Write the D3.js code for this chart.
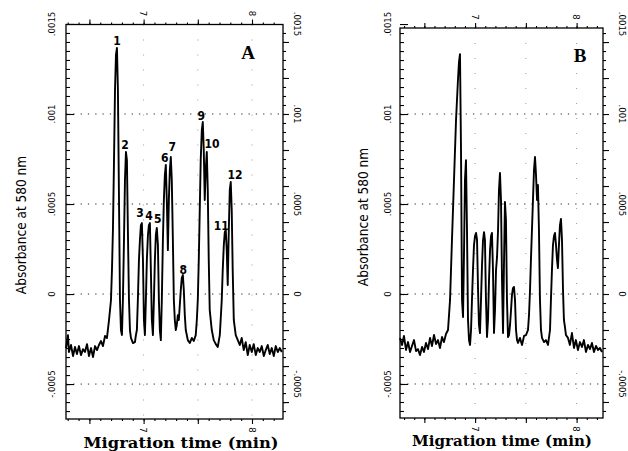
<!DOCTYPE html>
<html>
<head>
<meta charset="utf-8">
<script src="https://cdn.jsdelivr.net/npm/d3@7"></script>
<style>
  body { margin: 0; background: #fff; }
  svg { display: block; }
</style>
</head>
<body>
<svg id="chart" width="628" height="451"></svg>
<script>
// migration time (min) and absorbance (units of 1e-4 AU)
const timeA = [6.284, 6.302, 6.311, 6.330, 6.349, 6.367, 6.385, 6.404, 6.422, 6.441, 6.459, 6.478, 6.496, 6.515, 6.533, 6.552, 6.570, 6.588, 6.607, 6.625,
  6.644, 6.662, 6.681, 6.699, 6.708, 6.717, 6.727, 6.736, 6.745, 6.754, 6.763, 6.773, 6.782, 6.791, 6.800, 6.809, 6.819, 6.828, 6.837, 6.846,
  6.855, 6.865, 6.874, 6.883, 6.902, 6.920, 6.929, 6.938, 6.947, 6.957, 6.966, 6.975, 6.984, 6.994, 7.003, 7.012, 7.021, 7.030, 7.040, 7.049,
  7.058, 7.067, 7.076, 7.086, 7.095, 7.104, 7.113, 7.122, 7.132, 7.141, 7.150, 7.159, 7.168, 7.178, 7.187, 7.196, 7.205, 7.214, 7.224, 7.233,
  7.242, 7.251, 7.260, 7.270, 7.279, 7.288, 7.297, 7.306, 7.316, 7.325, 7.334, 7.343, 7.352, 7.362, 7.371, 7.380, 7.389, 7.408, 7.426, 7.445,
  7.463, 7.481, 7.491, 7.500, 7.509, 7.518, 7.527, 7.537, 7.546, 7.555, 7.564, 7.573, 7.583, 7.592, 7.601, 7.610, 7.629, 7.647, 7.666, 7.684,
  7.703, 7.721, 7.730, 7.740, 7.749, 7.758, 7.767, 7.776, 7.786, 7.795, 7.804, 7.813, 7.822, 7.832, 7.850, 7.869, 7.887, 7.905, 7.924, 7.942,
  7.961, 7.979, 7.998, 8.016, 8.035, 8.053, 8.072, 8.090, 8.109, 8.127, 8.145, 8.164, 8.182, 8.201, 8.219, 8.238, 8.256, 8.275];
const absA = [-3.00, -2.28, -3.22, -2.83, -3.44, -2.94, -3.33, -2.89, -3.39, -3.06, -3.22, -2.78, -3.44, -3.00, -3.50, -2.89, -3.11, -2.83, -2.61, -2.89,
  -2.33, -2.44, -1.44, -0.33, 1.33, 3.56, 7.44, 11.33, 13.28, 13.67, 11.33, 5.22, -0.33, -2.00, -2.28, -0.33, 3.00, 6.33, 7.89, 7.44,
  3.56, -0.33, -2.00, -2.44, -2.72, -2.67, -2.28, -2.00, -0.33, 1.89, 3.00, 3.83, 3.94, 1.89, -1.44, -2.28, -0.33, 1.89, 3.28, 3.83,
  3.94, 1.33, -1.44, -2.28, -0.33, 1.89, 3.28, 3.67, 2.72, -0.33, -2.00, -2.56, -0.33, 3.00, 5.22, 6.61, 7.17, 5.22, 2.44, 5.22,
  6.89, 7.61, 6.33, 3.00, -0.33, -1.44, -2.00, -1.72, -1.17, -1.44, -0.61, 0.22, 0.89, 1.06, 0.22, -1.17, -2.00, -2.56, -2.72, -2.44,
  -2.61, -2.28, -1.44, -0.33, 1.89, 4.67, 7.44, 9.11, 9.56, 8.00, 5.22, 6.89, 7.89, 5.78, 1.89, -0.89, -2.00, -2.56, -2.78, -2.94,
  -2.28, -0.33, 1.33, 2.72, 3.44, 3.56, 2.44, 0.50, 3.56, 5.78, 6.22, 4.67, 1.33, -1.44, -2.28, -2.56, -2.83, -2.44, -3.11, -2.67,
  -3.39, -2.83, -3.22, -2.78, -3.39, -3.00, -3.22, -2.89, -3.44, -3.11, -2.83, -3.33, -3.00, -3.44, -2.89, -3.22, -3.00, -3.22];

const timeB = [6.260, 6.280, 6.299, 6.319, 6.339, 6.359, 6.378, 6.398, 6.418, 6.437, 6.457, 6.477, 6.496, 6.516, 6.536, 6.556, 6.575, 6.595, 6.615, 6.634,
  6.654, 6.674, 6.693, 6.713, 6.733, 6.753, 6.772, 6.792, 6.812, 6.831, 6.841, 6.851, 6.861, 6.871, 6.881, 6.891, 6.900, 6.910, 6.920, 6.930,
  6.940, 6.950, 6.960, 6.969, 6.979, 6.989, 6.999, 7.009, 7.019, 7.029, 7.038, 7.048, 7.058, 7.068, 7.078, 7.088, 7.097, 7.107, 7.117, 7.127,
  7.137, 7.147, 7.157, 7.166, 7.176, 7.186, 7.196, 7.206, 7.216, 7.226, 7.235, 7.245, 7.255, 7.265, 7.275, 7.285, 7.294, 7.304, 7.314, 7.324,
  7.334, 7.344, 7.354, 7.363, 7.373, 7.383, 7.393, 7.403, 7.413, 7.423, 7.442, 7.462, 7.482, 7.501, 7.521, 7.531, 7.541, 7.550, 7.560, 7.570,
  7.580, 7.590, 7.600, 7.610, 7.619, 7.629, 7.639, 7.649, 7.659, 7.679, 7.698, 7.718, 7.738, 7.747, 7.757, 7.767, 7.777, 7.787, 7.797, 7.807,
  7.816, 7.826, 7.836, 7.846, 7.856, 7.866, 7.875, 7.885, 7.895, 7.915, 7.934, 7.954, 7.974, 7.993, 8.013, 8.033, 8.053, 8.072, 8.092, 8.112,
  8.132, 8.151, 8.171, 8.191, 8.211, 8.230, 8.250];
const absB = [-2.44, -2.83, -2.33, -3.11, -2.67, -3.22, -2.89, -2.56, -3.17, -3.06, -3.39, -2.94, -3.22, -2.72, -3.06, -2.44, -2.89, -2.28, -2.78, -2.56,
  -3.00, -2.39, -2.67, -2.22, -2.00, -0.33, 3.00, 6.33, 9.67, 11.89, 12.89, 13.33, 8.00, -0.33, -1.28, 2.44, 6.33, 7.44, 3.56, -1.44,
  -2.56, -2.83, -2.00, -0.33, 1.33, 2.72, 3.22, 3.39, 3.00, 0.22, -1.72, -2.17, -0.33, 1.61, 3.00, 3.44, 3.00, -0.33, -2.39, -1.44,
  0.78, 2.44, 3.22, 3.39, 1.33, -2.17, -0.89, 1.33, 2.06, 3.56, 5.78, 6.72, 5.22, 0.78, -2.17, 1.89, 5.11, 4.11, -0.33, -2.39,
  -2.28, -1.72, -0.89, -0.06, 0.33, 0.39, -0.33, -2.00, -2.56, -2.72, -2.44, -2.83, -2.33, -2.28, -2.00, -1.17, 0.22, 1.89, 3.56, 5.22,
  6.89, 7.61, 6.61, 5.22, 6.06, 3.56, -0.33, -2.00, -2.44, -2.67, -2.56, -2.83, -2.00, -0.33, 1.33, 2.72, 3.22, 3.39, 2.72, 1.89,
  1.44, 2.72, 3.83, 4.17, 3.00, 0.22, -1.44, -1.83, -2.28, -2.44, -2.83, -2.17, -3.00, -2.56, -3.11, -2.67, -2.94, -2.56, -3.22, -2.83,
  -3.06, -2.72, -3.22, -2.89, -3.11, -3.00, -3.22];

// peak numbers in panel A (time, absorbance at label baseline)
const peakLabels = ['1', '2', '3', '4', '5', '6', '7', '8', '9', '10', '11', '12'];
const peakLabelTime = [6.754, 6.828, 6.966, 7.049, 7.130, 7.196, 7.265, 7.366, 7.532, 7.630, 7.717, 7.843];
const peakLabelAbs = [13.83, 8.06, 4.28, 4.11, 3.94, 7.33, 7.94, 1.11, 9.67, 8.11, 3.56, 6.39];

const yTickValues = [15, 10, 5, 0, -5];
const yTickLabels = ['.0015', '.001', '.0005', '0', '-.0005'];
const xTickValues = [7, 8];
const xTickLabels = ['7', '8'];
const gridAbs = [10, 5, 0, -5];
const gridTime = [7, 7.5, 8];

const narrow = "'Liberation Sans Narrow', 'DejaVu Sans Condensed', 'Arial Narrow', sans-serif";

const svg = d3.select('#chart');
svg.append('rect').attr('width', 628).attr('height', 451).attr('fill', '#fff');

const panels = [
  { name: 'A', time: timeA, abs: absA, left: 66, right: 283, top: 24.5, bottom: 419,
    xDomain: [6.284, 8.286], yDomain: [-6.94, 14.97], leftLab: 14, rightLab: 14,
    titleX: 181, titleY: 448, titleLen: 195, yTitleX: 26, yTitleY: 225, letterX: 248, letterY: 59 },
  { name: 'B', time: timeB, abs: absB, left: 400, right: 603, top: 28, bottom: 418,
    xDomain: [6.26, 8.26], yDomain: [-6.89, 14.78], leftLab: 12, rightLab: 19,
    titleX: 502, titleY: 446, titleLen: 180, yTitleX: 368, yTitleY: 217, letterX: 580, letterY: 62 }
];

panels.forEach(p => {
  const x = d3.scaleLinear().domain(p.xDomain).range([p.left, p.right]);
  const y = d3.scaleLinear().domain(p.yDomain).range([p.bottom, p.top]);
  const g = svg.append('g');

  // dotted grid
  g.selectAll('.hgrid').data(gridAbs).enter().append('line')
    .attr('x1', p.left).attr('x2', p.right)
    .attr('y1', d => y(d)).attr('y2', d => y(d))
    .attr('stroke', '#333').attr('stroke-width', 1).attr('stroke-dasharray', '1.3,6');
  g.selectAll('.vgrid').data(gridTime).enter().append('line')
    .attr('x1', d => x(d)).attr('x2', d => x(d))
    .attr('y1', p.top).attr('y2', p.bottom)
    .attr('stroke', '#999').attr('stroke-width', 1).attr('stroke-dasharray', '1,14');

  // ticks
  const yMinor = d3.range(-13, 30).map(v => v / 2);
  const xMinor = d3.range(63, 83).map(v => v / 10);
  const xMajor = [6.5, 7, 7.5, 8];
  const noText = () => '';
  const tickStyle = sel => {
    sel.select('.domain').remove();
    sel.selectAll('line').attr('stroke', '#000').attr('stroke-width', 1.1);
  };
  g.append('g').attr('transform', `translate(${p.left},0)`)
    .call(d3.axisLeft(y).tickValues(yMinor).tickSize(-4).tickFormat(noText)).call(tickStyle);
  g.append('g').attr('transform', `translate(${p.left},0)`)
    .call(d3.axisLeft(y).tickValues(yTickValues).tickSize(-8).tickFormat(noText)).call(tickStyle);
  g.append('g').attr('transform', `translate(${p.right},0)`)
    .call(d3.axisRight(y).tickValues(yMinor).tickSize(3).tickFormat(noText)).call(tickStyle);
  g.append('g').attr('transform', `translate(${p.right},0)`)
    .call(d3.axisRight(y).tickValues(d3.range(-6, 16, 2)).tickSize(6).tickFormat(noText)).call(tickStyle);
  g.append('g').attr('transform', `translate(0,${p.top})`)
    .call(d3.axisTop(x).tickValues(xMinor).tickSize(2).tickFormat(noText)).call(tickStyle);
  g.append('g').attr('transform', `translate(0,${p.top})`)
    .call(d3.axisTop(x).tickValues(xMajor).tickSize(5).tickFormat(noText)).call(tickStyle);
  g.append('g').attr('transform', `translate(0,${p.bottom})`)
    .call(d3.axisBottom(x).tickValues(xMinor).tickSize(2).tickFormat(noText)).call(tickStyle);
  g.append('g').attr('transform', `translate(0,${p.bottom})`)
    .call(d3.axisBottom(x).tickValues(xMajor).tickSize(5).tickFormat(noText)).call(tickStyle);

  // frame
  g.append('rect')
    .attr('x', p.left).attr('y', p.top)
    .attr('width', p.right - p.left).attr('height', p.bottom - p.top)
    .attr('fill', 'none').attr('stroke', '#000').attr('stroke-width', 1.3);

  // rotated tick labels
  yTickValues.forEach((v, i) => {
    g.append('text')
      .attr('transform', `translate(${p.left - p.leftLab},${y(v)}) rotate(-90)`)
      .attr('text-anchor', 'middle').attr('dy', '0.35em')
      .attr('font-family', narrow).attr('font-size', 9.5).attr('fill', '#000')
      .text(yTickLabels[i]);
    g.append('text')
      .attr('transform', `translate(${p.right + p.rightLab},${y(v)}) rotate(90)`)
      .attr('text-anchor', 'middle').attr('dy', '0.35em')
      .attr('font-family', narrow).attr('font-size', 9.5).attr('fill', '#000')
      .text(yTickLabels[i]);
  });
  xTickValues.forEach((v, i) => {
    g.append('text')
      .attr('transform', `translate(${x(v)},${p.top - 11}) rotate(90)`)
      .attr('text-anchor', 'middle').attr('dy', '0.35em')
      .attr('font-family', narrow).attr('font-size', 9.5).attr('fill', '#000')
      .text(xTickLabels[i]);
    g.append('text')
      .attr('transform', `translate(${x(v)},${p.bottom + 11}) rotate(90)`)
      .attr('text-anchor', 'middle').attr('dy', '0.35em')
      .attr('font-family', narrow).attr('font-size', 9.5).attr('fill', '#000')
      .text(xTickLabels[i]);
  });

  // trace
  const line = d3.line().x(d => x(d[0])).y(d => y(d[1]));
  g.append('path')
    .datum(d3.zip(p.time, p.abs))
    .attr('d', line)
    .attr('fill', 'none').attr('stroke', '#000')
    .attr('stroke-width', 1.9).attr('stroke-linejoin', 'round');

  // titles
  g.append('text')
    .attr('transform', `translate(${p.yTitleX},${p.yTitleY}) rotate(-90)`)
    .attr('text-anchor', 'middle')
    .attr('font-family', narrow).attr('font-size', 13.5).attr('fill', '#000')
    .text('Absorbance at 580 nm');
  g.append('text')
    .attr('x', p.titleX - p.titleLen / 2).attr('y', p.titleY)
    .attr('textLength', p.titleLen).attr('lengthAdjust', 'spacingAndGlyphs')
    .attr('font-family', "'DejaVu Serif', 'Liberation Serif', serif")
    .attr('font-weight', 'bold').attr('font-size', 14).attr('fill', '#000')
    .text('Migration time (min)');
  g.append('text')
    .attr('x', p.letterX).attr('y', p.letterY)
    .attr('text-anchor', 'middle')
    .attr('font-family', "'Liberation Serif', 'Times New Roman', serif")
    .attr('font-weight', 'bold').attr('font-size', 19).attr('fill', '#000')
    .text(p.name);

  if (p.name === 'A') {
    g.selectAll('.peak').data(peakLabels).enter().append('text')
      .attr('x', (d, i) => x(peakLabelTime[i]))
      .attr('y', (d, i) => y(peakLabelAbs[i]))
      .attr('text-anchor', 'middle')
      .attr('font-family', "'Liberation Sans Narrow', 'DejaVu Sans Condensed', sans-serif")
      .attr('font-weight', 'bold').attr('font-size', 12).attr('fill', '#000')
      .text(d => d);
  }
});
</script>
</body>
</html>
